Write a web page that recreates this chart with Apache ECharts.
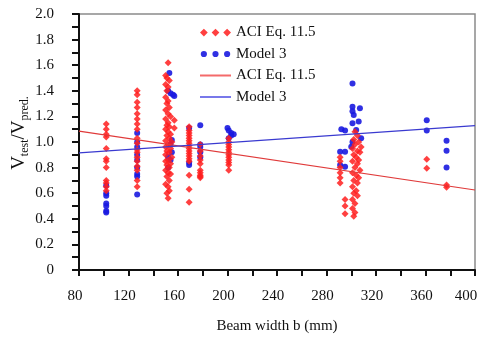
<!DOCTYPE html>
<html><head><meta charset="utf-8">
<script src="https://cdn.jsdelivr.net/npm/echarts@6/dist/echarts.min.js"></script>
<style>html,body{margin:0;padding:0;background:#fff}#c{width:481px;height:337px}</style>
</head><body><div id="c"></div>
<script>
// ACI Eq. 11.5 ratios (beam width mm, Vtest/Vpred)
var aciPoints = [
 [102,1.14],[102,1.10],[102,1.06],[102,1.04],[102,0.95],[102,0.87],[102,0.85],[102,0.80],[102,0.70],[102,0.68],[102,0.65],[102,0.62],
 [127,1.40],[127,1.37],[127,1.31],[127,1.27],[127,1.22],[127,1.18],[127,1.14],[127,1.10],[127,1.03],[127,0.99],[127,0.94],[127,0.92],[127,0.88],[127,0.85],[127,0.81],[127,0.78],[127,0.70],[127,0.65],
 [152,1.62],[150,1.52],[151,1.50],[153,1.48],[150,1.45],[152,1.43],[151,1.40],[150,1.35],[152,1.32],[151,1.30],[153,1.27],[150,1.25],[152,1.22],[154,1.20],[150,1.18],[157,1.17],[152,1.15],[151,1.13],[153,1.12],[157,1.11],[150,1.10],[152,1.08],[154,1.06],[151,1.05],[153,1.03],[150,1.01],[155,1.00],[152,0.98],[150,0.96],[154,0.95],[151,0.93],[153,0.92],[150,0.90],[155,0.88],[152,0.86],[150,0.85],[154,0.83],[151,0.82],[153,0.80],[150,0.78],[152,0.76],[154,0.75],[151,0.73],[153,0.70],[150,0.67],[152,0.65],[153,0.62],[151,0.60],[152,0.56],
 [169,1.12],[169,1.09],[169,1.07],[169,1.05],[169,1.03],[169,1.01],[169,0.99],[169,0.97],[169,0.95],[169,0.93],[169,0.91],[169,0.89],[169,0.87],[169,0.85],[169,0.74],[169,0.63],[169,0.53],
 [178,0.98],[178,0.93],[178,0.89],[178,0.86],[178,0.83],[178,0.78],[178,0.76],[178,0.74],[178,0.73],[178,0.72],
 [201,1.03],[201,1.00],[201,0.98],[201,0.96],[201,0.94],[201,0.92],[201,0.90],[201,0.88],[201,0.86],[201,0.84],[201,0.82],[201,0.78],
 [291,0.88],[291,0.85],[291,0.80],[291,0.76],[291,0.72],[291,0.68],[295,0.55],[295,0.50],[295,0.44],
 [303,1.08],[305,1.05],[302,1.02],[306,1.00],[303,0.98],[308,0.96],[301,0.95],[305,0.93],[307,0.92],[302,0.90],[304,0.88],[306,0.86],[301,0.85],[305,0.83],[303,0.80],[307,0.78],[301,0.76],[304,0.74],[306,0.72],[302,0.70],[305,0.68],[301,0.65],[304,0.62],[302,0.60],[305,0.58],[301,0.55],[303,0.52],[301,0.48],[303,0.45],[302,0.42],
 [361,0.865],[361,0.794],[377,0.664],[377,0.646]
];
// Model 3 ratios
var modelPoints = [
 [102,0.66],[102,0.60],[102,0.58],[102,0.52],[102,0.50],[102,0.46],[102,0.45],
 [127,1.07],[127,1.00],[127,0.96],[127,0.90],[127,0.86],[127,0.80],[127,0.75],[127,0.73],[127,0.59],
 [153,1.54],[152,1.40],[154,1.38],[156,1.37],[157,1.36],[155,1.016],[154,0.98],[155,0.92],[152,0.885],[154,0.86],[152,0.80],
 [169,1.11],[169,0.84],[169,0.82],
 [178,1.13],[178,0.98],[178,0.96],[178,0.92],[178,0.88],
 [200,1.11],[201,1.09],[203,1.07],[205,1.06],[203,1.05],[201,1.03],
 [301,1.458],[301,1.276],[307,1.263],[301,1.24],[302,1.21],[306,1.16],[301,1.146],[292,1.10],[295,1.09],[304,1.094],[308,1.03],[301,1.0],[300,0.963],[291,0.924],[295,0.924],[291,0.82],[295,0.807],
 [361,1.17],[361,1.09],[377,1.01],[377,0.932],[377,0.80]
];
// Trend lines
var aciLine = [[80,1.085],[400,0.625]];
var modelLine = [[80,0.915],[400,1.128]];
// Axis ranges / ticks
var xRange = [80, 400], xStep = 20, xLabelStep = 40;
var yRange = [0, 2.0], yStep = 0.1;

var names = {'aciPts':'ACI Eq. 11.5','modelPts':'Model 3','aciLn':'ACI Eq. 11.5','modelLn':'Model 3'};
var serif = '"Liberation Serif","DejaVu Serif",serif';
var chart = echarts.init(document.getElementById('c'), null, {renderer:'canvas'});
var diamonds3 = 'path://M0,4L4,0L8,4L4,8Z M12,4L16,0L20,4L16,8Z M24,4L28,0L32,4L28,8Z';
var circles3 = 'path://M0,0h0.01v0.01h-0.01Z M32,7.99h0.01v0.01h-0.01Z M0.8,4a3.2,3.2 0 1,0 6.4,0a3.2,3.2 0 1,0 -6.4,0Z M12.8,4a3.2,3.2 0 1,0 6.4,0a3.2,3.2 0 1,0 -6.4,0Z M24.8,4a3.2,3.2 0 1,0 6.4,0a3.2,3.2 0 1,0 -6.4,0Z';
var lineIcon = 'path://M0,0h0.01v0.01h-0.01Z M0,2.9h32v2.2h-32Z M0,7.99h0.01v0.01h-0.01Z';
chart.setOption({
  animation:false,
  backgroundColor:'#fff',
  grid:{left:79,right:6,top:14,bottom:67,show:true,borderColor:'#8a8a8a',borderWidth:1.5,outerBoundsMode:'none',containLabel:false},
  legend:{
    orient:'vertical',left:200,top:25,padding:0,itemWidth:31,itemHeight:8,itemGap:6.5,
    textStyle:{fontFamily:serif,fontSize:15,color:'#111',lineHeight:15},
    formatter:function(n){return names[n];},
    data:[
      {name:'aciPts',icon:diamonds3,itemStyle:{color:'#ff1e1e'}},
      {name:'modelPts',icon:circles3,itemStyle:{color:'#1a1ae0'}},
      {name:'aciLn',icon:lineIcon,itemStyle:{color:'#f46a6a'}},
      {name:'modelLn',icon:lineIcon,itemStyle:{color:'#7878ea'}}
    ]
  },
  xAxis:{
    type:'value',min:xRange[0],max:xRange[1],interval:xStep,
    name:'Beam width b (mm)',nameLocation:'middle',nameGap:49,nameMoveOverlap:false,
    nameTextStyle:{fontFamily:serif,fontSize:15,color:'#111'},
    axisLine:{show:true,lineStyle:{color:'#111',width:2}},
    axisTick:{show:true,inside:false,length:6,lineStyle:{color:'#111',width:2}},
    splitLine:{show:false},
    axisLabel:{fontFamily:serif,fontSize:15,color:'#111',margin:19,padding:[0,8,0,0],
      rich:{e:{fontFamily:serif,fontSize:15,color:'#111',padding:[0,10,0,0]}},
      formatter:function(v){var r=Math.round(v); if(r%xLabelStep!==0) return ''; return r===xRange[1]?'{e|'+r+'}':String(r);}}
  },
  yAxis:{
    type:'value',min:yRange[0],max:yRange[1],interval:yStep,
    name:'{v|V}{s|test}{v|/V}{s|pred.}',nameLocation:'middle',nameGap:48,nameRotate:90,nameMoveOverlap:false,
    nameTextStyle:{fontFamily:serif,color:'#111',padding:[0,0,0,18],
      rich:{v:{fontFamily:serif,fontSize:19,color:'#111',lineHeight:24,verticalAlign:'middle'},
            s:{fontFamily:serif,fontSize:12,color:'#111',lineHeight:24,verticalAlign:'bottom',padding:[7,0,0,0]}}},
    axisLine:{show:true,lineStyle:{color:'#111',width:2}},
    axisTick:{show:true,inside:false,length:7,lineStyle:{color:'#111',width:2}},
    splitLine:{show:false},
    axisLabel:{fontFamily:serif,fontSize:15,color:'#111',margin:25,
      formatter:function(v){var k=Math.round(v*10); if(k%2) return ''; return k===0?'0':(k/10).toFixed(1);}}
  },
  series:[
    {name:'modelPts',type:'scatter',data:modelPoints,symbol:'circle',symbolSize:6,itemStyle:{color:'#1a1ae0',opacity:0.9},z:3},
    {name:'aciPts',type:'scatter',data:aciPoints,symbol:'diamond',symbolSize:7,itemStyle:{color:'#ff1e1e',opacity:0.85},z:4},
    {name:'aciLn',type:'line',data:aciLine,symbol:'none',lineStyle:{color:'#e03a3a',width:1.2},itemStyle:{color:'#f46a6a'},z:5},
    {name:'modelLn',type:'line',data:modelLine,symbol:'none',lineStyle:{color:'#3a3ad0',width:1.2},itemStyle:{color:'#7878ea'},z:5}
  ]
});
</script></body></html>
